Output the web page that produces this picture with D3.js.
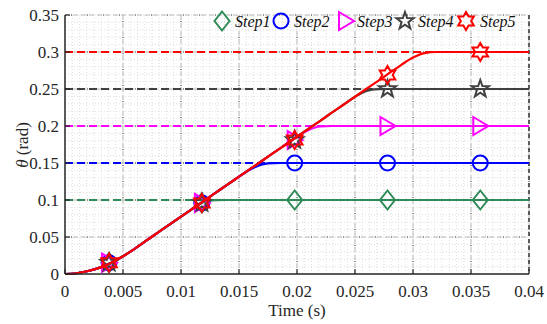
<!DOCTYPE html>
<html><head><meta charset="utf-8">
<script src="https://cdn.jsdelivr.net/npm/d3@7"></script>
<style>body{margin:0;background:#fff}svg{display:block}</style>
</head><body>
<script>
// ---------- data ----------
const time = [0,0.001,0.002,0.003,0.004,0.005,0.006,0.007,0.008,0.009,0.010,0.011,0.012,0.013,0.014,0.015,0.016,0.017,0.018,0.019,0.020,0.021,0.022,0.023,0.024,0.025,0.026,0.027,0.028,0.029,0.030,0.031,0.032,0.033,0.034,0.035,0.036,0.037,0.038,0.039,0.040];
const step1 = [0,0.001,0.004,0.0086,0.0153,0.024,0.034,0.045,0.056,0.0667,0.0775,0.088,0.0975,0.0998,0.1,0.1,0.1,0.1,0.1,0.1,0.1,0.1,0.1,0.1,0.1,0.1,0.1,0.1,0.1,0.1,0.1,0.1,0.1,0.1,0.1,0.1,0.1,0.1,0.1,0.1,0.1];
const step2 = [0,0.001,0.004,0.0086,0.0153,0.024,0.034,0.045,0.056,0.0667,0.0775,0.0883,0.099,0.11,0.1207,0.1315,0.1415,0.1482,0.1499,0.15,0.15,0.15,0.15,0.15,0.15,0.15,0.15,0.15,0.15,0.15,0.15,0.15,0.15,0.15,0.15,0.15,0.15,0.15,0.15,0.15,0.15];
const step3 = [0,0.001,0.004,0.0086,0.0153,0.024,0.034,0.045,0.056,0.0667,0.0775,0.0883,0.099,0.11,0.1207,0.1315,0.1423,0.153,0.164,0.1747,0.1855,0.1945,0.1993,0.2,0.2,0.2,0.2,0.2,0.2,0.2,0.2,0.2,0.2,0.2,0.2,0.2,0.2,0.2,0.2,0.2,0.2];
const step4 = [0,0.001,0.004,0.0086,0.0153,0.024,0.034,0.045,0.056,0.0667,0.0775,0.0883,0.099,0.11,0.1207,0.1315,0.1423,0.153,0.164,0.1747,0.1855,0.1963,0.207,0.218,0.2287,0.2395,0.2475,0.2497,0.25,0.25,0.25,0.25,0.25,0.25,0.25,0.25,0.25,0.25,0.25,0.25,0.25];
const step5 = [0,0.001,0.004,0.0086,0.0153,0.024,0.034,0.045,0.056,0.0667,0.0775,0.0883,0.099,0.11,0.1207,0.1315,0.1423,0.153,0.164,0.1747,0.1855,0.1963,0.207,0.218,0.2287,0.2395,0.2503,0.261,0.272,0.2827,0.2925,0.2985,0.3,0.3,0.3,0.3,0.3,0.3,0.3,0.3,0.3];
const targets = [0.1,0.15,0.2,0.25,0.3];
const markerTimes = [0.0038,0.0118,0.0198,0.0278,0.0358];
const markers1 = [0.0153,0.096,0.1,0.1,0.1];
const markers2 = [0.0153,0.096,0.15,0.15,0.15];
const markers3 = [0.0153,0.096,0.181,0.2,0.2];
const markers4 = [0.0153,0.096,0.181,0.25,0.25];
const markers5 = [0.0153,0.096,0.181,0.269,0.3];
const seriesNames = ["Step1","Step2","Step3","Step4","Step5"];
const xTicks = [0,0.005,0.01,0.015,0.02,0.025,0.03,0.035,0.04];
const xTickLabels = ["0","0.005","0.01","0.015","0.02","0.025","0.03","0.035","0.04"];
const yTicks = [0,0.05,0.1,0.15,0.2,0.25,0.3,0.35];
const yTickLabels = ["0","0.05","0.1","0.15","0.2","0.25","0.3","0.35"];

// ---------- setup ----------
const W=547,H=324;
const L=65,R=529,T=15,B=274;
const FONT="Liberation Serif";
const colors=["#2e8b57","#0000ff","#ff00ff","#404040","#ff0000"];
const shapes=["diamond","circle","triangle","pentagram","hexagram"];
const allSteps=[step1,step2,step3,step4,step5];
const allMarkers=[markers1,markers2,markers3,markers4,markers5];

const svg=d3.select("body").append("svg").attr("width",W).attr("height",H)
 .attr("font-family",FONT);
const x=d3.scaleLinear().domain([0,0.04]).range([L,R]);
const y=d3.scaleLinear().domain([0,0.35]).range([B,T]);

// minor grid
const g=svg.append("g");
const xMinor=d3.range(0,0.04+1e-9,0.005/8);
const yMinor=d3.range(0,0.35+1e-9,0.01);
g.selectAll(".vm").data(xMinor).enter().append("line")
 .attr("x1",d=>x(d)).attr("x2",d=>x(d)).attr("y1",T).attr("y2",B)
 .attr("stroke","#d6d6d6").attr("stroke-width",0.8).attr("stroke-dasharray","1,2");
g.selectAll(".hm").data(yMinor).enter().append("line")
 .attr("y1",d=>y(d)).attr("y2",d=>y(d)).attr("x1",L).attr("x2",R)
 .attr("stroke","#d6d6d6").attr("stroke-width",0.8).attr("stroke-dasharray","1,2");
// major grid
function majorV(d){
 g.append("line").attr("x1",x(d)).attr("x2",x(d)).attr("y1",T).attr("y2",B)
  .attr("stroke","#b8b8b8").attr("stroke-width",1).attr("stroke-dasharray","5,3");
 g.append("line").attr("x1",x(d)).attr("x2",x(d)).attr("y1",T).attr("y2",B)
  .attr("stroke","#333").attr("stroke-width",1).attr("stroke-dasharray","1,15").attr("stroke-dashoffset",-6);
}
function majorH(d){
 g.append("line").attr("y1",y(d)).attr("y2",y(d)).attr("x1",L).attr("x2",R)
  .attr("stroke","#b8b8b8").attr("stroke-width",1).attr("stroke-dasharray","5,3");
 g.append("line").attr("y1",y(d)).attr("y2",y(d)).attr("x1",L).attr("x2",R)
  .attr("stroke","#333").attr("stroke-width",1).attr("stroke-dasharray","1,15").attr("stroke-dashoffset",-6);
}
xTicks.slice(1).forEach(majorV);
yTicks.slice(1).forEach(majorH);
// right edge dark dashed
svg.append("line").attr("x1",R).attr("x2",R).attr("y1",T).attr("y2",B)
 .attr("stroke","#333").attr("stroke-width",1.5).attr("stroke-dasharray","4,3");

// reference dashed lines
targets.forEach((t,i)=>{
 svg.append("line").attr("x1",x(0)).attr("x2",x(0.04)).attr("y1",y(t)).attr("y2",y(t))
  .attr("stroke",colors[i]).attr("stroke-width",2).attr("stroke-dasharray","8,4");
});

// symbol paths
function shapePath(s){
 if(s==="diamond") return "M0,-9.5L7.5,0L0,9.5L-7.5,0Z";
 if(s==="circle") return d3.arc()({innerRadius:0,outerRadius:7.5,startAngle:0,endAngle:2*Math.PI});
 if(s==="triangle") return "M-7,-9L8,0L-7,9Z";
 if(s==="pentagram"){
  let p=[];for(let k=0;k<10;k++){const r=k%2?3.6:9;const a=-Math.PI/2+k*Math.PI/5;p.push([r*Math.cos(a),r*Math.sin(a)]);}
  return "M"+p.join("L")+"Z";
 }
 if(s==="hexagram"){
  let p=[];for(let k=0;k<12;k++){const r=k%2?5.2:9;const a=-Math.PI/2+k*Math.PI/6;p.push([r*Math.cos(a),r*Math.sin(a)]);}
  return "M"+p.join("L")+"Z";
 }
}

// curves and markers
const line=d3.line().x((d,i)=>x(time[i])).y(d=>y(d)).curve(d3.curveMonotoneX);
allSteps.forEach((s,i)=>{
 svg.append("path").attr("d",line(s)).attr("fill","none").attr("stroke",colors[i]).attr("stroke-width",2.2);
 svg.selectAll(".m"+i).data(allMarkers[i]).enter().append("path")
  .attr("d",shapePath(shapes[i]))
  .attr("transform",(d,j)=>`translate(${x(markerTimes[j])},${y(d)})`)
  .attr("fill","none").attr("stroke",colors[i]).attr("stroke-width",2).attr("stroke-linejoin","miter");
});

// axes
svg.append("line").attr("x1",L).attr("x2",L).attr("y1",T).attr("y2",B).attr("stroke","#262626").attr("stroke-width",1.5);
svg.append("line").attr("x1",L).attr("x2",R).attr("y1",B).attr("y2",B).attr("stroke","#262626").attr("stroke-width",1.5);
xTicks.forEach((t,i)=>{
 svg.append("line").attr("x1",x(t)).attr("x2",x(t)).attr("y1",B).attr("y2",B-5).attr("stroke","#262626").attr("stroke-width",1.2);
 svg.append("text").attr("x",x(t)).attr("y",297).attr("text-anchor","middle").attr("font-family",FONT)
  .attr("font-size",17).attr("fill","#262626").text(xTickLabels[i]);
});
yTicks.forEach((t,i)=>{
 svg.append("line").attr("x1",L).attr("x2",L+5).attr("y1",y(t)).attr("y2",y(t)).attr("stroke","#262626").attr("stroke-width",1.2);
 svg.append("text").attr("x",59).attr("y",y(t)+6).attr("text-anchor","end").attr("font-family",FONT)
  .attr("font-size",17).attr("fill","#262626").text(yTickLabels[i]);
});
svg.append("text").attr("x",297).attr("y",316).attr("text-anchor","middle").attr("font-family",FONT)
 .attr("font-size",17).attr("fill","#262626").text("Time (s)");
const yl=svg.append("text").attr("transform","translate(28,145) rotate(-90)").attr("text-anchor","middle")
 .attr("font-family",FONT).attr("font-size",17).attr("fill","#262626");
yl.append("tspan").attr("font-style","italic").text("θ");
yl.append("tspan").text(" (rad)");

// legend
const legX=[222,281,346,405,466];
const legTX=[235,294,357,418,480];
seriesNames.forEach((n,i)=>{
 svg.append("path").attr("d",shapePath(shapes[i])).attr("transform",`translate(${legX[i]},21)`)
  .attr("fill","none").attr("stroke",colors[i]).attr("stroke-width",2);
 svg.append("text").attr("x",legTX[i]).attr("y",27).attr("font-style","italic").attr("font-family",FONT)
  .attr("font-size",16).attr("fill","#111").text(n);
});
</script>
</body></html>
